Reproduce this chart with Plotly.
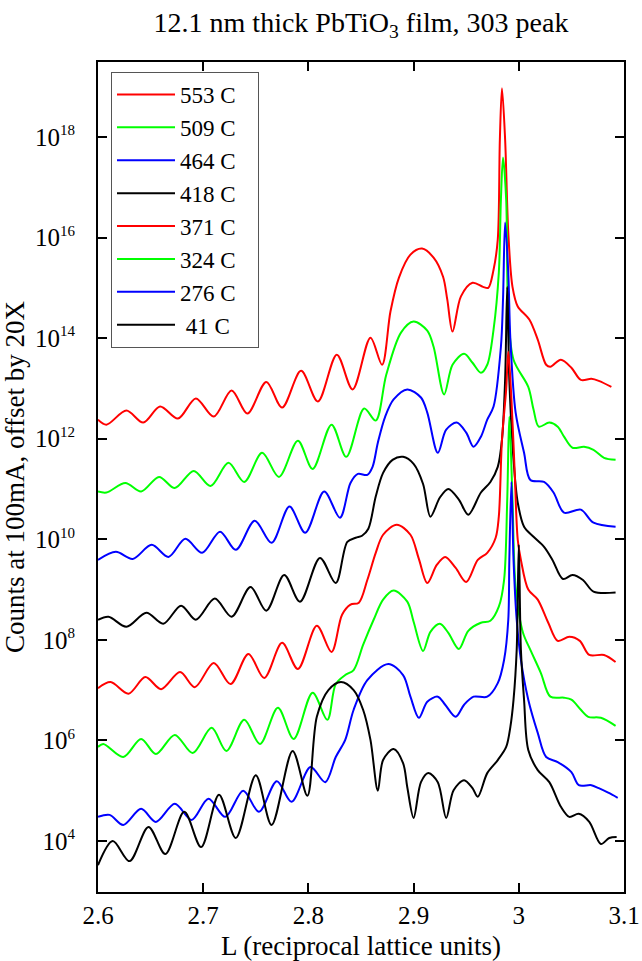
import numpy as np
import plotly.graph_objects as go

# ---- data: L (r.l.u.) and log10(counts) ----
names = ["553 C", "509 C", "464 C", "418 C", "371 C", "324 C", "276 C", "\u00a041 C"]
colors = ["#ff0000", "#00ff00", "#0000ff", "#000000", "#ff0000", "#00ff00", "#0000ff", "#000000"]

L553 = [2.600, 2.608, 2.627, 2.643, 2.659, 2.676, 2.693, 2.710, 2.727, 2.742, 2.760, 2.775, 2.793, 2.809, 2.827, 2.842,
        2.859, 2.870, 2.878, 2.886, 2.897, 2.908, 2.919, 2.928, 2.932, 2.937, 2.945, 2.956, 2.966, 2.971, 2.976, 2.980,
        2.982, 2.984, 2.987, 2.990, 2.994, 2.999, 3.010, 3.018, 3.026, 3.030, 3.040, 3.050, 3.059, 3.069, 3.076, 3.088]
lg553 = [12.38, 12.28, 12.56, 12.32, 12.64, 12.40, 12.80, 12.44, 12.96, 12.50, 13.13, 12.62, 13.35, 12.74, 13.67, 12.98,
         14.01, 13.47, 14.53, 15.20, 15.66, 15.78, 15.60, 15.22, 14.77, 14.13, 14.83, 15.10, 15.02, 15.00, 15.36, 15.96,
         17.95, 18.97, 17.95, 16.10, 15.02, 14.63, 14.37, 13.97, 13.47, 13.43, 13.57, 13.41, 13.17, 13.19, 13.15, 13.03]

L509 = [2.600, 2.608, 2.626, 2.641, 2.658, 2.673, 2.691, 2.707, 2.724, 2.739, 2.756, 2.772, 2.790, 2.804, 2.822, 2.836,
        2.853, 2.864, 2.874, 2.888, 2.900, 2.913, 2.919, 2.929, 2.937, 2.948, 2.956, 2.964, 2.970, 2.976, 2.981, 2.983,
        2.985, 2.988, 2.990, 2.995, 3.009, 3.014, 3.019, 3.029, 3.037, 3.043, 3.051, 3.062, 3.071, 3.081, 3.092]
lg509 = [10.95, 10.93, 11.12, 10.95, 11.24, 11.02, 11.36, 11.06, 11.52, 11.14, 11.72, 11.24, 11.96, 11.40, 12.28, 11.64,
         12.60, 12.36, 13.27, 14.11, 14.33, 14.15, 13.83, 12.88, 13.47, 13.69, 13.51, 13.31, 13.47, 14.17, 15.30, 16.76,
         17.59, 16.76, 14.51, 13.57, 13.03, 12.58, 12.24, 12.32, 12.24, 12.04, 11.82, 11.84, 11.78, 11.62, 11.58]

L464 = [2.600, 2.617, 2.633, 2.651, 2.667, 2.683, 2.699, 2.716, 2.731, 2.749, 2.765, 2.782, 2.797, 2.815, 2.830, 2.840,
        2.847, 2.856, 2.861, 2.866, 2.873, 2.881, 2.894, 2.907, 2.913, 2.923, 2.931, 2.941, 2.950, 2.957, 2.964, 2.970,
        2.976, 2.983, 2.985, 2.987, 2.990, 2.992, 2.997, 3.005, 3.011, 3.024, 3.033, 3.043, 3.059, 3.071, 3.092]
lg464 = [9.59, 9.75, 9.61, 9.89, 9.65, 10.01, 9.73, 10.15, 9.79, 10.37, 9.93, 10.65, 10.13, 10.95, 10.43, 11.12,
         11.30, 11.28, 11.44, 11.92, 12.44, 12.78, 12.98, 12.82, 12.52, 11.72, 12.18, 12.32, 12.12, 11.84, 12.04, 12.38,
         12.64, 13.83, 14.77, 16.30, 15.30, 13.97, 12.52, 11.72, 11.18, 11.14, 10.93, 10.53, 10.59, 10.33, 10.25]

L418 = [2.600, 2.610, 2.627, 2.646, 2.662, 2.679, 2.693, 2.711, 2.727, 2.745, 2.760, 2.777, 2.792, 2.811, 2.826, 2.837,
        2.845, 2.851, 2.857, 2.864, 2.871, 2.880, 2.890, 2.900, 2.909, 2.916, 2.925, 2.933, 2.943, 2.952, 2.964, 2.973,
        2.980, 2.984, 2.987, 2.989, 2.991, 2.995, 2.999, 3.005, 3.014, 3.024, 3.032, 3.042, 3.051, 3.061, 3.071, 3.092]
lg418 = [8.40, 8.46, 8.26, 8.54, 8.32, 8.68, 8.40, 8.82, 8.46, 9.05, 8.58, 9.29, 8.76, 9.63, 9.13, 9.95,
         10.03, 10.07, 10.21, 10.85, 11.32, 11.58, 11.64, 11.50, 11.10, 10.45, 10.83, 11.00, 10.79, 10.49, 10.93, 11.14,
         11.44, 11.98, 13.17, 15.02, 13.17, 11.58, 10.73, 10.25, 10.05, 9.85, 9.59, 9.21, 9.29, 9.19, 8.96, 8.94]

L371 = [2.600, 2.612, 2.629, 2.645, 2.660, 2.678, 2.692, 2.710, 2.726, 2.743, 2.758, 2.775, 2.790, 2.808, 2.822, 2.832,
        2.840, 2.848, 2.856, 2.864, 2.871, 2.884, 2.897, 2.905, 2.913, 2.922, 2.930, 2.940, 2.950, 2.961, 2.970, 2.978,
        2.981, 2.984, 2.988, 2.990, 2.993, 2.996, 2.999, 3.002, 3.009, 3.018, 3.028, 3.037, 3.048, 3.058, 3.067, 3.081, 3.092]
lg371 = [7.04, 7.16, 6.93, 7.26, 7.02, 7.36, 7.06, 7.54, 7.12, 7.72, 7.24, 7.94, 7.42, 8.28, 7.76, 8.50,
         8.70, 8.74, 9.19, 9.73, 10.09, 10.29, 10.09, 9.61, 9.13, 9.49, 9.65, 9.43, 9.15, 9.59, 9.73, 10.03,
         10.45, 11.98, 12.98, 13.73, 12.78, 11.38, 9.99, 9.59, 9.00, 8.80, 8.34, 7.98, 8.06, 7.98, 7.70, 7.70, 7.56]

L324 = [2.600, 2.605, 2.624, 2.641, 2.655, 2.673, 2.690, 2.708, 2.722, 2.739, 2.754, 2.771, 2.786, 2.804, 2.818, 2.826,
        2.835, 2.843, 2.852, 2.862, 2.871, 2.881, 2.894, 2.900, 2.909, 2.916, 2.925, 2.933, 2.943, 2.952, 2.964, 2.973,
        2.981, 2.986, 2.989, 2.991, 2.994, 2.997, 3.004, 3.011, 3.021, 3.030, 3.043, 3.050, 3.059, 3.066, 3.078, 3.092]
lg324 = [5.87, 5.93, 5.67, 6.03, 5.73, 6.11, 5.75, 6.25, 5.79, 6.41, 5.93, 6.65, 6.03, 6.95, 6.41, 7.12,
         7.30, 7.40, 7.90, 8.40, 8.80, 8.98, 8.76, 8.36, 7.78, 8.16, 8.32, 8.14, 7.82, 8.18, 8.34, 8.38,
         8.66, 9.19, 10.79, 12.44, 10.79, 9.05, 8.14, 7.80, 7.34, 6.87, 6.85, 6.81, 6.61, 6.47, 6.45, 6.29]

L276 = [2.600, 2.611, 2.624, 2.641, 2.655, 2.673, 2.689, 2.705, 2.721, 2.738, 2.753, 2.770, 2.784, 2.802, 2.816, 2.826,
        2.835, 2.843, 2.856, 2.876, 2.890, 2.897, 2.905, 2.913, 2.923, 2.930, 2.940, 2.948, 2.957, 2.970, 2.980, 2.986,
        2.990, 2.991, 2.993, 2.995, 2.998, 3.002, 3.009, 3.018, 3.026, 3.037, 3.050, 3.057, 3.069, 3.076, 3.085, 3.094]
lg276 = [4.48, 4.52, 4.32, 4.64, 4.38, 4.74, 4.42, 4.84, 4.48, 5.00, 4.58, 5.19, 4.78, 5.47, 5.17, 5.67,
         6.01, 6.61, 7.20, 7.52, 7.30, 6.87, 6.45, 6.77, 6.87, 6.71, 6.47, 6.71, 6.87, 6.87, 7.14, 7.60,
         8.40, 9.59, 11.14, 9.59, 8.40, 7.60, 6.81, 6.15, 5.67, 5.57, 5.37, 5.11, 5.11, 5.05, 4.96, 4.86]

L41 = [2.600, 2.614, 2.630, 2.648, 2.664, 2.682, 2.698, 2.715, 2.731, 2.750, 2.765, 2.785, 2.799, 2.808, 2.819, 2.831,
       2.843, 2.852, 2.859, 2.866, 2.871, 2.881, 2.890, 2.894, 2.900, 2.907, 2.914, 2.923, 2.931, 2.938, 2.948, 2.956,
       2.961, 2.970, 2.980, 2.988, 2.992, 2.995, 2.998, 3.000, 3.002, 3.005, 3.009, 3.018, 3.029, 3.040, 3.048, 3.057,
       3.067, 3.078, 3.086, 3.093]
lg41 = [3.52, 4.00, 3.60, 4.28, 3.74, 4.58, 3.88, 4.92, 4.06, 5.31, 4.32, 5.79, 4.90, 6.47, 7.00, 7.16,
        7.00, 6.61, 6.01, 5.00, 5.61, 5.83, 5.55, 5.07, 4.46, 5.17, 5.35, 5.17, 4.46, 5.01, 5.21, 5.05,
        4.88, 5.35, 5.61, 5.87, 6.27, 6.81, 7.80, 9.89, 7.80, 6.81, 5.81, 5.41, 5.17, 4.68, 4.48, 4.54,
        4.38, 3.94, 4.06, 4.08]

x_tickvals = [2.6, 2.7, 2.8, 2.9, 3.0, 3.1]
x_ticktext = ["2.6", "2.7", "2.8", "2.9", "3", "3.1"]
y_exponents = [4, 6, 8, 10, 12, 14, 16, 18]

series_L = [L553, L509, L464, L418, L371, L324, L276, L41]
series_lg = [lg553, lg509, lg464, lg418, lg371, lg324, lg276, lg41]

FONT = "Liberation Serif, Times New Roman, serif"
PAD = "\u00a0" * 3

fig = go.Figure()
for name, col, xs, lg in zip(names, colors, series_L, series_lg):
    fig.add_trace(go.Scatter(
        x=xs, y=(10.0 ** np.array(lg)).tolist(), name=name + PAD, mode="lines",
        line=dict(color=col, width=2, shape="spline", smoothing=0.9),
    ))

axis_common = dict(
    showline=True, linecolor="black", linewidth=2, mirror="ticks",
    ticks="inside", ticklen=9, tickwidth=2, tickcolor="black",
    showgrid=False, zeroline=False,
    tickfont=dict(family=FONT, size=25, color="black"),
)

y_tickvals = [10.0 ** e for e in y_exponents]
y_ticktext = ["10<sup><span style='font-size:15px'>%d</span></sup>" % e for e in y_exponents]

fig.update_layout(
    width=642, height=961,
    margin=dict(l=98, r=18, t=62, b=69, autoexpand=False),
    paper_bgcolor="white", plot_bgcolor="white",
    font=dict(family=FONT, color="black"),
    title=dict(text="12.1 nm thick PbTiO<sub>3</sub> film, 303 peak",
               font=dict(family=FONT, size=28, color="black"),
               x=0.5, xref="paper", xanchor="center",
               y=1 - 22 / 961, yref="container", yanchor="middle"),
    xaxis=dict(range=[2.6, 3.1], tickvals=x_tickvals, ticktext=x_ticktext, automargin=False,
               title=dict(text="L (reciprocal lattice units)", font=dict(family=FONT, size=27), standoff=8),
               ticklabelstandoff=0, **axis_common),
    yaxis=dict(type="log", range=[2.986, 19.491], tickvals=y_tickvals, ticktext=y_ticktext, automargin=True,
               title=dict(text="Counts at 100mA, offset by 20X", font=dict(family=FONT, size=27), standoff=4),
               ticklabelstandoff=16, **axis_common),
    legend=dict(x=(111 - 98) / 526, y=1 - (72 - 62) / 830, xanchor="left", yanchor="top",
                bordercolor="#555555", borderwidth=1, bgcolor="white",
                font=dict(family=FONT, size=23, color="black"),
                tracegroupgap=0, itemwidth=58),
    showlegend=True,
)

fig.write_html("out.html", config={"displayModeBar": False},
               post_script="document.body.style.margin='0px';document.body.style.overflow='hidden';")
